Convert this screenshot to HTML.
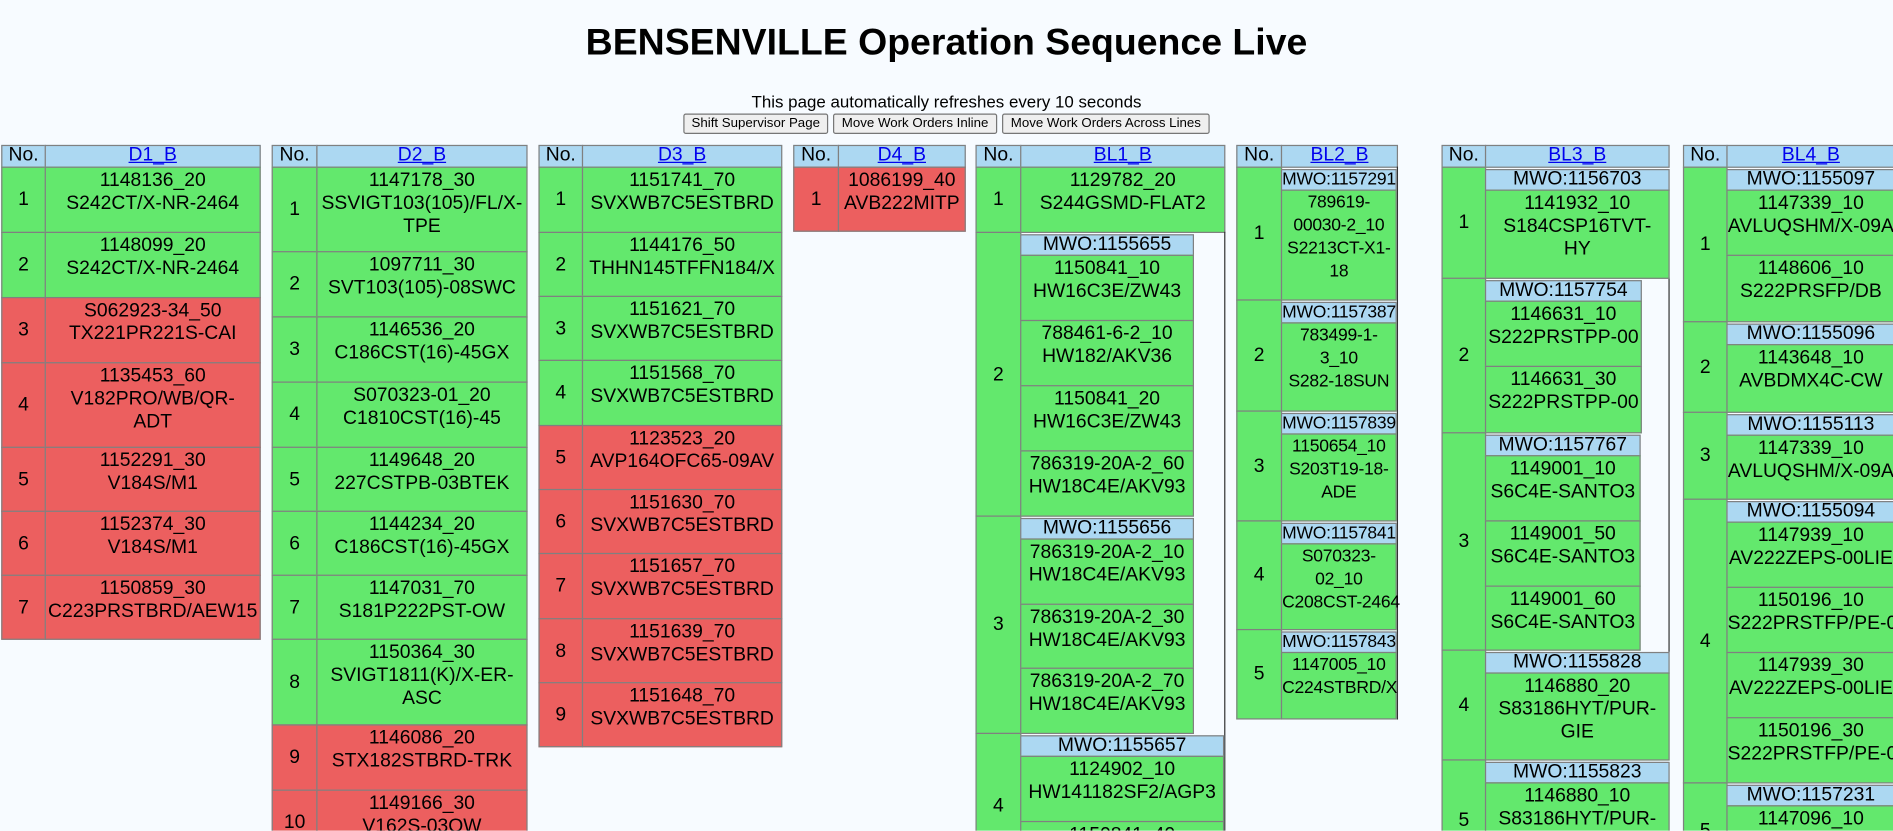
<!DOCTYPE html>
<html><head><meta charset="utf-8"><style>
html,body{margin:0;padding:0;background:#f7fbff;overflow:hidden;width:1893px;height:831px}
.p{position:relative;width:1568px;height:688px;overflow:hidden;transform:scale(1.20727);transform-origin:0 0;font-family:"Liberation Sans",sans-serif;color:#000}
.b{position:absolute;box-sizing:border-box;border:1.5px solid #808080;text-align:center;white-space:nowrap;font-size:16px;line-height:19px;padding-top:1px}
.g{background:#63e86d}.r{background:#ec5f5f}.h{background:#acd8f2;line-height:16px;padding-top:0}
.n{display:flex;align-items:center;justify-content:center;padding-top:0}
.s{font-size:14.5px;letter-spacing:-0.2px}
a{color:#00e;text-decoration:underline}
.btn{position:absolute;top:94px;height:17px;box-sizing:border-box;border:1px solid #767676;border-radius:2px;background:#efefef;font-size:11px;line-height:15px;text-align:center}
.vl{position:absolute;width:1px;background:#333}
</style></head><body><div class="p">
<div style="position:absolute;left:0;width:1568px;top:15px;text-align:center;font-weight:bold;font-size:31px;line-height:40px">BENSENVILLE Operation Sequence Live</div>
<div style="position:absolute;left:0;width:1568px;top:76px;text-align:center;font-size:14px;line-height:16px">This page automatically refreshes every 10 seconds</div>
<div class="btn" style="left:566px;width:120px">Shift Supervisor Page</div>
<div class="btn" style="left:690px;width:136px">Move Work Orders Inline</div>
<div class="btn" style="left:830px;width:172px">Move Work Orders Across Lines</div>

<!-- D1 -->
<div class="b h" style="left:1px;top:120px;width:37px;height:19px">No.</div>
<div class="b h" style="left:37px;top:120px;width:179px;height:19px"><a>D1_B</a></div>
<div class="b g n" style="left:1px;top:138px;width:37px;height:55px">1</div><div class="b g" style="left:37px;top:138px;width:179px;height:55px">1148136_20<br>S242CT/X-NR-2464</div>
<div class="b g n" style="left:1px;top:192px;width:37px;height:55px">2</div><div class="b g" style="left:37px;top:192px;width:179px;height:55px">1148099_20<br>S242CT/X-NR-2464</div>
<div class="b r n" style="left:1px;top:246px;width:37px;height:55px">3</div><div class="b r" style="left:37px;top:246px;width:179px;height:55px">S062923-34_50<br>TX221PR221S-CAI</div>
<div class="b r n" style="left:1px;top:300px;width:37px;height:71px">4</div><div class="b r" style="left:37px;top:300px;width:179px;height:71px">1135453_60<br>V182PRO/WB/QR-<br>ADT</div>
<div class="b r n" style="left:1px;top:370px;width:37px;height:54px">5</div><div class="b r" style="left:37px;top:370px;width:179px;height:54px">1152291_30<br>V184S/M1</div>
<div class="b r n" style="left:1px;top:423px;width:37px;height:54px">6</div><div class="b r" style="left:37px;top:423px;width:179px;height:54px">1152374_30<br>V184S/M1</div>
<div class="b r n" style="left:1px;top:476px;width:37px;height:54px">7</div><div class="b r" style="left:37px;top:476px;width:179px;height:54px">1150859_30<br>C223PRSTBRD/AEW15</div>

<!-- D2 -->
<div class="b h" style="left:225px;top:120px;width:38px;height:19px">No.</div>
<div class="b h" style="left:262px;top:120px;width:175px;height:19px"><a>D2_B</a></div>
<div class="b g n" style="left:225px;top:138px;width:38px;height:71px">1</div><div class="b g" style="left:262px;top:138px;width:175px;height:71px">1147178_30<br>SSVIGT103(105)/FL/X-<br>TPE</div>
<div class="b g n" style="left:225px;top:208px;width:38px;height:55px">2</div><div class="b g" style="left:262px;top:208px;width:175px;height:55px">1097711_30<br>SVT103(105)-08SWC</div>
<div class="b g n" style="left:225px;top:262px;width:38px;height:55px">3</div><div class="b g" style="left:262px;top:262px;width:175px;height:55px">1146536_20<br>C186CST(16)-45GX</div>
<div class="b g n" style="left:225px;top:316px;width:38px;height:55px">4</div><div class="b g" style="left:262px;top:316px;width:175px;height:55px">S070323-01_20<br>C1810CST(16)-45</div>
<div class="b g n" style="left:225px;top:370px;width:38px;height:54px">5</div><div class="b g" style="left:262px;top:370px;width:175px;height:54px">1149648_20<br>227CSTPB-03BTEK</div>
<div class="b g n" style="left:225px;top:423px;width:38px;height:54px">6</div><div class="b g" style="left:262px;top:423px;width:175px;height:54px">1144234_20<br>C186CST(16)-45GX</div>
<div class="b g n" style="left:225px;top:476px;width:38px;height:54px">7</div><div class="b g" style="left:262px;top:476px;width:175px;height:54px">1147031_70<br>S181P222PST-OW</div>
<div class="b g n" style="left:225px;top:529px;width:38px;height:72px">8</div><div class="b g" style="left:262px;top:529px;width:175px;height:72px">1150364_30<br>SVIGT1811(K)/X-ER-<br>ASC</div>
<div class="b r n" style="left:225px;top:600px;width:38px;height:55px">9</div><div class="b r" style="left:262px;top:600px;width:175px;height:55px">1146086_20<br>STX182STBRD-TRK</div>
<div class="b r n" style="left:225px;top:654px;width:38px;height:55px">10</div><div class="b r" style="left:262px;top:654px;width:175px;height:55px">1149166_30<br>V162S-03OW</div>

<!-- D3 -->
<div class="b h" style="left:446px;top:120px;width:37px;height:19px">No.</div>
<div class="b h" style="left:482px;top:120px;width:166px;height:19px"><a>D3_B</a></div>
<div class="b g n" style="left:446px;top:138px;width:37px;height:55px">1</div><div class="b g" style="left:482px;top:138px;width:166px;height:55px">1151741_70<br>SVXWB7C5ESTBRD</div>
<div class="b g n" style="left:446px;top:192px;width:37px;height:54px">2</div><div class="b g" style="left:482px;top:192px;width:166px;height:54px">1144176_50<br>THHN145TFFN184/X</div>
<div class="b g n" style="left:446px;top:245px;width:37px;height:54px">3</div><div class="b g" style="left:482px;top:245px;width:166px;height:54px">1151621_70<br>SVXWB7C5ESTBRD</div>
<div class="b g n" style="left:446px;top:298px;width:37px;height:55px">4</div><div class="b g" style="left:482px;top:298px;width:166px;height:55px">1151568_70<br>SVXWB7C5ESTBRD</div>
<div class="b r n" style="left:446px;top:352px;width:37px;height:54px">5</div><div class="b r" style="left:482px;top:352px;width:166px;height:54px">1123523_20<br>AVP164OFC65-09AV</div>
<div class="b r n" style="left:446px;top:405px;width:37px;height:54px">6</div><div class="b r" style="left:482px;top:405px;width:166px;height:54px">1151630_70<br>SVXWB7C5ESTBRD</div>
<div class="b r n" style="left:446px;top:458px;width:37px;height:55px">7</div><div class="b r" style="left:482px;top:458px;width:166px;height:55px">1151657_70<br>SVXWB7C5ESTBRD</div>
<div class="b r n" style="left:446px;top:512px;width:37px;height:54px">8</div><div class="b r" style="left:482px;top:512px;width:166px;height:54px">1151639_70<br>SVXWB7C5ESTBRD</div>
<div class="b r n" style="left:446px;top:565px;width:37px;height:54px">9</div><div class="b r" style="left:482px;top:565px;width:166px;height:54px">1151648_70<br>SVXWB7C5ESTBRD</div>

<!-- D4 -->
<div class="b h" style="left:657px;top:120px;width:38px;height:19px">No.</div>
<div class="b h" style="left:694px;top:120px;width:106px;height:19px"><a>D4_B</a></div>
<div class="b r n" style="left:657px;top:138px;width:38px;height:54px">1</div><div class="b r" style="left:694px;top:138px;width:106px;height:54px">1086199_40<br>AVB222MITP</div>

<!-- BL1 -->
<div class="b h" style="left:808px;top:120px;width:38px;height:19px">No.</div>
<div class="b h" style="left:845px;top:120px;width:170px;height:19px"><a>BL1_B</a></div>
<div class="b g n" style="left:808px;top:138px;width:38px;height:55px">1</div><div class="b g" style="left:845px;top:138px;width:170px;height:55px">1129782_20<br>S244GSMD-FLAT2</div>
<div class="vl" style="left:1014px;top:192px;height:500px"></div>
<div class="b g n" style="left:808px;top:192px;width:38px;height:236px">2</div>
<div class="b h" style="left:845px;top:194px;width:144px;height:18px">MWO:1155655</div>
<div class="b g" style="left:845px;top:211px;width:144px;height:55px">1150841_10<br>HW16C3E/ZW43</div>
<div class="b g" style="left:845px;top:265px;width:144px;height:55px">788461-6-2_10<br>HW182/AKV36</div>
<div class="b g" style="left:845px;top:319px;width:144px;height:55px">1150841_20<br>HW16C3E/ZW43</div>
<div class="b g" style="left:845px;top:373px;width:144px;height:55px">786319-20A-2_60<br>HW18C4E/AKV93</div>
<div class="b g n" style="left:808px;top:427px;width:38px;height:181px">3</div>
<div class="b h" style="left:845px;top:429px;width:144px;height:18px">MWO:1155656</div>
<div class="b g" style="left:845px;top:446px;width:144px;height:55px">786319-20A-2_10<br>HW18C4E/AKV93</div>
<div class="b g" style="left:845px;top:500px;width:144px;height:54px">786319-20A-2_30<br>HW18C4E/AKV93</div>
<div class="b g" style="left:845px;top:553px;width:144px;height:55px">786319-20A-2_70<br>HW18C4E/AKV93</div>
<div class="b g n" style="left:808px;top:607px;width:38px;height:120px">4</div>
<div class="b h" style="left:845px;top:609px;width:169px;height:18px">MWO:1155657</div>
<div class="b g" style="left:845px;top:626px;width:169px;height:55px">1124902_10<br>HW141182SF2/AGP3</div>
<div class="b g" style="left:845px;top:680px;width:169px;height:55px">1150841_40</div>

<!-- BL2 -->
<div class="b h" style="left:1024px;top:120px;width:38px;height:19px">No.</div>
<div class="b h" style="left:1061px;top:120px;width:97px;height:19px"><a>BL2_B</a></div>
<div class="vl" style="left:1157px;top:138px;height:458px"></div>
<div class="b g n" style="left:1024px;top:138px;width:38px;height:111px">1</div>
<div class="b h s" style="left:1061px;top:140px;width:96px;height:18px">MWO:1157291</div>
<div class="b g s" style="left:1061px;top:157px;width:96px;height:92px">789619-<br>00030-2_10<br>S2213CT-X1-<br>18</div>
<div class="b g n" style="left:1024px;top:248px;width:38px;height:93px">2</div>
<div class="b h s" style="left:1061px;top:250px;width:96px;height:18px">MWO:1157387</div>
<div class="b g s" style="left:1061px;top:267px;width:96px;height:74px">783499-1-<br>3_10<br>S282-18SUN</div>
<div class="b g n" style="left:1024px;top:340px;width:38px;height:92px">3</div>
<div class="b h s" style="left:1061px;top:342px;width:96px;height:18px">MWO:1157839</div>
<div class="b g s" style="left:1061px;top:359px;width:96px;height:73px">1150654_10<br>S203T19-18-<br>ADE</div>
<div class="b g n" style="left:1024px;top:431px;width:38px;height:91px">4</div>
<div class="b h s" style="left:1061px;top:433px;width:96px;height:18px">MWO:1157841</div>
<div class="b g s" style="left:1061px;top:450px;width:96px;height:72px">S070323-<br>02_10<br>C208CST-2464</div>
<div class="b g n" style="left:1024px;top:521px;width:38px;height:75px">5</div>
<div class="b h s" style="left:1061px;top:523px;width:96px;height:18px">MWO:1157843</div>
<div class="b g s" style="left:1061px;top:540px;width:96px;height:56px">1147005_10<br>C224STBRD/X</div>

<!-- BL3 -->
<div class="b h" style="left:1194px;top:120px;width:37px;height:19px">No.</div>
<div class="b h" style="left:1230px;top:120px;width:153px;height:19px"><a>BL3_B</a></div>
<div class="vl" style="left:1382px;top:230px;height:310px"></div>
<div class="b g n" style="left:1194px;top:138px;width:37px;height:93px">1</div>
<div class="b h" style="left:1230px;top:140px;width:153px;height:18px">MWO:1156703</div>
<div class="b g" style="left:1230px;top:157px;width:153px;height:74px">1141932_10<br>S184CSP16TVT-<br>HY</div>
<div class="b g n" style="left:1194px;top:230px;width:37px;height:129px">2</div>
<div class="b h" style="left:1230px;top:232px;width:130px;height:18px">MWO:1157754</div>
<div class="b g" style="left:1230px;top:249px;width:130px;height:55px">1146631_10<br>S222PRSTPP-00</div>
<div class="b g" style="left:1230px;top:303px;width:130px;height:56px">1146631_30<br>S222PRSTPP-00</div>
<div class="b g n" style="left:1194px;top:358px;width:37px;height:181px">3</div>
<div class="b h" style="left:1230px;top:360px;width:129px;height:18px">MWO:1157767</div>
<div class="b g" style="left:1230px;top:377px;width:129px;height:55px">1149001_10<br>S6C4E-SANTO3</div>
<div class="b g" style="left:1230px;top:431px;width:129px;height:55px">1149001_50<br>S6C4E-SANTO3</div>
<div class="b g" style="left:1230px;top:485px;width:129px;height:54px">1149001_60<br>S6C4E-SANTO3</div>
<div class="b g n" style="left:1194px;top:538px;width:37px;height:92px">4</div>
<div class="b h" style="left:1230px;top:540px;width:153px;height:18px">MWO:1155828</div>
<div class="b g" style="left:1230px;top:557px;width:153px;height:73px">1146880_20<br>S83186HYT/PUR-<br>GIE</div>
<div class="b g n" style="left:1194px;top:629px;width:37px;height:100px">5</div>
<div class="b h" style="left:1230px;top:631px;width:153px;height:18px">MWO:1155823</div>
<div class="b g" style="left:1230px;top:648px;width:153px;height:80px">1146880_10<br>S83186HYT/PUR-<br>GIE</div>

<!-- BL4 -->
<div class="b h" style="left:1394px;top:120px;width:37px;height:19px">No.</div>
<div class="b h" style="left:1430px;top:120px;width:140px;height:19px"><a>BL4_B</a></div>
<div class="b g n" style="left:1394px;top:138px;width:37px;height:129px">1</div>
<div class="b h" style="left:1430px;top:140px;width:140px;height:18px">MWO:1155097</div>
<div class="b g" style="left:1430px;top:157px;width:140px;height:55px">1147339_10<br>AVLUQSHM/X-09A</div>
<div class="b g" style="left:1430px;top:211px;width:140px;height:56px">1148606_10<br>S222PRSFP/DB</div>
<div class="b g n" style="left:1394px;top:266px;width:37px;height:76px">2</div>
<div class="b h" style="left:1430px;top:268px;width:140px;height:18px">MWO:1155096</div>
<div class="b g" style="left:1430px;top:285px;width:140px;height:57px">1143648_10<br>AVBDMX4C-CW</div>
<div class="b g n" style="left:1394px;top:341px;width:37px;height:73px">3</div>
<div class="b h" style="left:1430px;top:343px;width:140px;height:18px">MWO:1155113</div>
<div class="b g" style="left:1430px;top:360px;width:140px;height:54px">1147339_10<br>AVLUQSHM/X-09A</div>
<div class="b g n" style="left:1394px;top:413px;width:37px;height:236px">4</div>
<div class="b h" style="left:1430px;top:415px;width:140px;height:18px">MWO:1155094</div>
<div class="b g" style="left:1430px;top:432px;width:140px;height:55px">1147939_10<br>AV222ZEPS-00LIE</div>
<div class="b g" style="left:1430px;top:486px;width:140px;height:55px">1150196_10<br>S222PRSTFP/PE-0</div>
<div class="b g" style="left:1430px;top:540px;width:140px;height:55px">1147939_30<br>AV222ZEPS-00LIE</div>
<div class="b g" style="left:1430px;top:594px;width:140px;height:55px">1150196_30<br>S222PRSTFP/PE-0</div>
<div class="b g n" style="left:1394px;top:648px;width:37px;height:80px">5</div>
<div class="b h" style="left:1430px;top:650px;width:140px;height:18px">MWO:1157231</div>
<div class="b g" style="left:1430px;top:667px;width:140px;height:60px">1147096_10</div>
</div></body></html>
